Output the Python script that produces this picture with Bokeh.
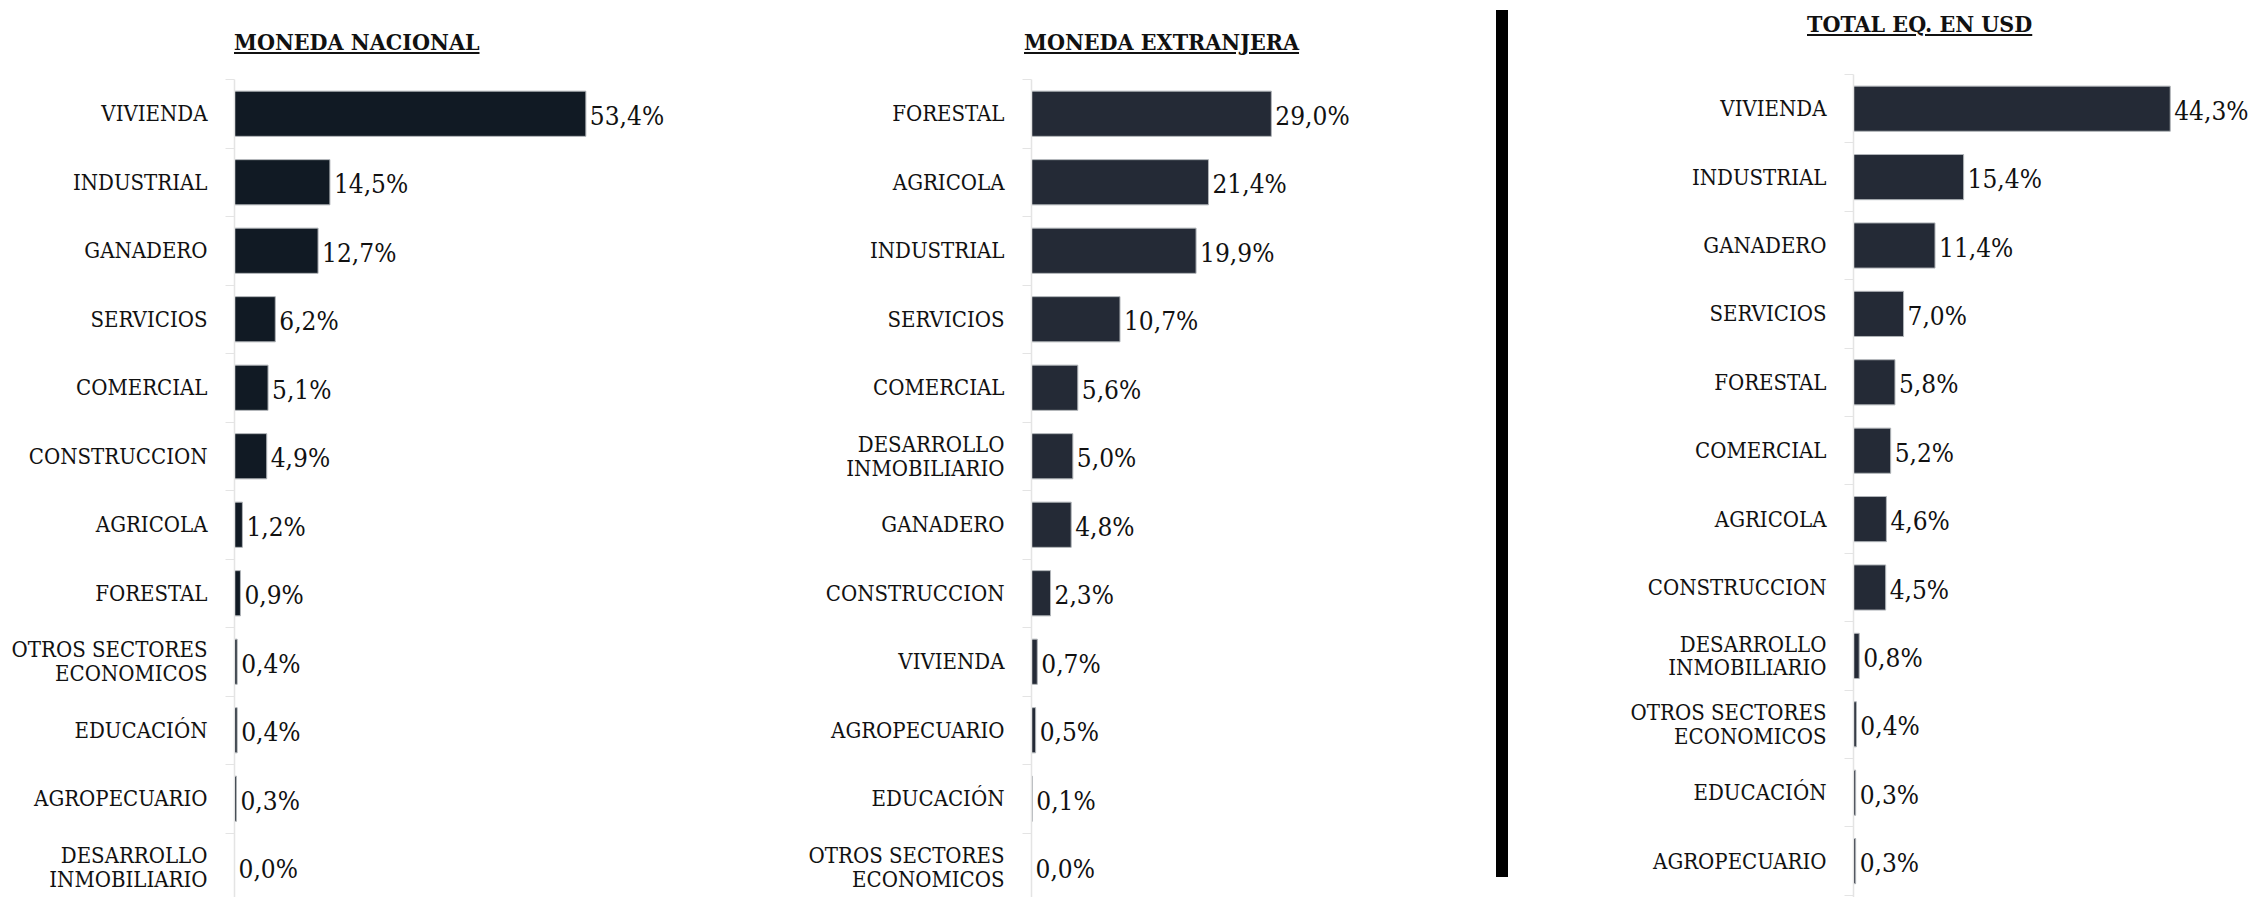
from bokeh.plotting import figure
from bokeh.models import Range1d, FixedTicker, ColumnDataSource, LabelSet, Div
from bokeh.layouts import row, column
from bokeh.core.properties import value
from bokeh.embed import file_html
from bokeh.resources import INLINE

# ---------------- data ----------------
titles = ["MONEDA NACIONAL", "MONEDA EXTRANJERA", "TOTAL EQ. EN USD"]

cats_mn = ["VIVIENDA", "INDUSTRIAL", "GANADERO", "SERVICIOS", "COMERCIAL", "CONSTRUCCION",
           "AGRICOLA", "FORESTAL", "OTROS SECTORES\nECONOMICOS", "EDUCACIÓN", "AGROPECUARIO",
           "DESARROLLO\nINMOBILIARIO"]
vals_mn = [53.4, 14.5, 12.7, 6.2, 5.1, 4.9, 1.2, 0.9, 0.4, 0.4, 0.3, 0.0]

cats_me = ["FORESTAL", "AGRICOLA", "INDUSTRIAL", "SERVICIOS", "COMERCIAL",
           "DESARROLLO\nINMOBILIARIO", "GANADERO", "CONSTRUCCION", "VIVIENDA", "AGROPECUARIO",
           "EDUCACIÓN", "OTROS SECTORES\nECONOMICOS"]
vals_me = [29.0, 21.4, 19.9, 10.7, 5.6, 5.0, 4.8, 2.3, 0.7, 0.5, 0.1, 0.0]

cats_usd = ["VIVIENDA", "INDUSTRIAL", "GANADERO", "SERVICIOS", "FORESTAL", "COMERCIAL",
            "AGRICOLA", "CONSTRUCCION", "DESARROLLO\nINMOBILIARIO", "OTROS SECTORES\nECONOMICOS",
            "EDUCACIÓN", "AGROPECUARIO"]
vals_usd = [44.3, 15.4, 11.4, 7.0, 5.8, 5.2, 4.6, 4.5, 0.8, 0.4, 0.3, 0.3]

FONT = "DejaVu Serif Condensed"


def fmt(v):
    return f"{v:.1f}".replace(".", ",") + "%"


def make_panel(cats, vals, color, width, fig_h, border_left, border_top, band_px, px_per_unit,
               title, div_h, title_left, title_top, title_w):
    n = len(cats)
    ys = list(range(n))
    frame_h = fig_h - border_top
    frame_w = width - border_left
    y_start = -0.5 + frame_h / band_px
    src = ColumnDataSource(dict(y=ys, v=vals, t=[fmt(v) for v in vals]))

    p = figure(width=width, height=fig_h, output_backend="svg", toolbar_location=None,
               x_range=Range1d(0, frame_w / px_per_unit), y_range=Range1d(y_start, -0.5),
               min_border_left=border_left, min_border_right=0, min_border_top=border_top,
               min_border_bottom=0, x_axis_location=None, outline_line_color=None,
               background_fill_color="white", border_fill_color="white")
    p.hbar(y="y", left=0, right="v", height=0.66, source=src,
           fill_color=color, line_color="#b0b4b8", line_width=1)

    labels = LabelSet(x="v", y="y", text="t", source=src, x_offset=4, y_offset=-2,
                      text_baseline="middle", text_align="left",
                      text_font=value(FONT), text_font_size="26px", text_color="#111111")
    p.add_layout(labels)

    ax = p.yaxis[0]
    ax.ticker = FixedTicker(ticks=ys, minor_ticks=[i - 0.5 for i in range(n + 1)])
    ax.major_label_overrides = {i: c for i, c in enumerate(cats)}
    ax.major_tick_line_color = None
    ax.major_tick_out = 0
    ax.major_tick_in = 0
    ax.minor_tick_line_color = "#e4e4e4"
    ax.minor_tick_out = 9
    ax.minor_tick_in = 0
    ax.axis_line_color = "#e4e4e4"
    ax.axis_line_width = 1.5
    ax.major_label_standoff = 18
    ax.major_label_text_font = FONT
    ax.major_label_text_font_size = "22px"
    ax.major_label_text_color = "#111111"
    ax.major_label_text_line_height = 0.95
    p.xgrid.visible = False
    p.ygrid.visible = False

    head = Div(text=f"<u>{title}</u>", width=title_w, height=28,
               margin=(title_top, 0, div_h - title_top - 28, title_left),
               styles={"font-family": f"'{FONT}', serif", "font-size": "23px",
                       "font-weight": "bold", "text-decoration": "underline",
                       "line-height": "26px", "white-space": "nowrap", "color": "#111111"})
    return column(head, p, spacing=0, margin=(0, 0, 0, 0))


col1 = make_panel(cats_mn, vals_mn, "#111a24", 748, 829, 234, 11, 68.5, 6.58,
                  titles[0], 68, 234, 29, 260)
col2 = make_panel(cats_me, vals_me, "#242a36", 748, 829, 283, 11, 68.5, 8.27,
                  titles[1], 68, 276, 29, 300)
sep = Div(text='<div style="width:12px;height:867px;background:#000000;"></div>',
          width=12, height=867, margin=(10, 0, 0, 0))
col3 = make_panel(cats_usd, vals_usd, "#242a36", 742, 839, 345, 16, 68.4, 7.15,
                  titles[2], 58, 299, 11, 240)

layout = row(col1, col2, sep, col3, spacing=0, margin=(0, 0, 0, 0))

open("out.html", "w").write(file_html(layout, INLINE))
